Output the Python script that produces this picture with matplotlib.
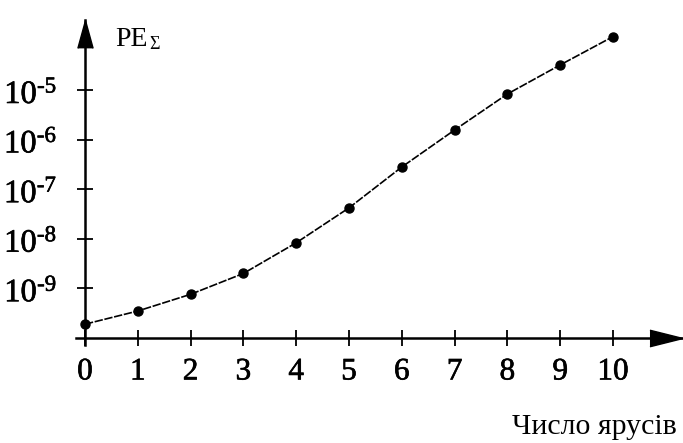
#!/usr/bin/env python3
"""
Імовірність помилки PE_Σ в залежності від числа ярусів
"""

import matplotlib
matplotlib.use('Agg')  # Non-interactive backend
import matplotlib.pyplot as plt
import matplotlib.patheffects as pe

# Daten
tiers = [0, 1, 2, 3, 4, 5, 6, 7, 8, 9, 10]
pe_sum = [1.9e-10, 3.5e-10, 7.6e-10, 2.0e-9, 8.3e-9, 4.2e-8,
          2.8e-7, 1.56e-6, 8.3e-6, 3.2e-5, 1.19e-4]

y_ticks = [1e-9, 1e-8, 1e-7, 1e-6, 1e-5]
y_labels = [r'$10^{\text{-}9}$', r'$10^{\text{-}8}$', r'$10^{\text{-}7}$',
            r'$10^{\text{-}6}$', r'$10^{\text{-}5}$']
x_ticks = list(range(0, 11))

W, H = 683, 443
plt.rcParams['mathtext.fontset'] = 'custom'
plt.rcParams['mathtext.rm'] = 'Liberation Serif'
plt.rcParams['mathtext.it'] = 'Liberation Serif'

# etwas dickere Schrift wie im Scan
thick = [pe.withStroke(linewidth=0.45, foreground='black')]

fig = plt.figure(figsize=(W / 100, H / 100), dpi=100)
# Achsen so legen, dass die Pixel dem Original entsprechen
ax = fig.add_axes([76 / W, (H - 345) / H, (W - 76) / W, (345 - 20) / H])

ax.plot(tiers, pe_sum, color='black', lw=1.2, dashes=(5, 1),
        marker='o', markersize=6.5, markerfacecolor='black',
        markeredgecolor='black')

ax.set_yscale('log')
ax.set_xlim(-0.17, 11.326)
ax.set_ylim(10 ** -10.141, 10 ** -3.589)

# Achsen durch den Ursprung
for side in ['top', 'right']:
    ax.spines[side].set_visible(False)
ax.spines['left'].set_position(('data', 0))
ax.spines['bottom'].set_position(('data', 1e-10))
for side in ['left', 'bottom']:
    ax.spines[side].set_linewidth(1.8)

ax.set_xticks(x_ticks)
ax.set_xticklabels([str(t) for t in x_ticks], family='Liberation Serif',
                   fontsize=22.5)
ax.set_yticks(y_ticks)
ax.set_yticklabels(y_labels, fontsize=23.5)
ax.yaxis.set_minor_locator(plt.NullLocator())
ax.tick_params(axis='both', direction='inout', length=12, width=1.3, color='black')
ax.tick_params(axis='x', pad=8)
ax.tick_params(axis='y', pad=14)
for lbl in ax.get_xticklabels() + ax.get_yticklabels():
    lbl.set_path_effects(thick)

# Pfeilspitzen
ax.plot(11.01, 1e-10, marker=[(-1, -0.5), (1, 0), (-1, 0.5)], markersize=23.8,
        color='black', clip_on=False)
ax.plot(0, 10 ** -3.871, marker=[(-0.55, -1), (0, 1), (0.55, -1)], markersize=20,
        color='black', clip_on=False)

# Beschriftungen
fig.text(115 / W, 1 - 46 / H, 'PE', family='Liberation Serif', fontsize=20,
         va='baseline', ha='left')
fig.text(149 / W, 1 - 49 / H, 'Σ', family='Liberation Serif', fontsize=13,
         va='baseline', ha='left')
fig.text(677 / W, 1 - 434 / H, 'Число ярусів', family='Liberation Serif',
         fontsize=21.5, va='baseline', ha='right')

fig.savefig('out.png', dpi=100)
plt.close(fig)
